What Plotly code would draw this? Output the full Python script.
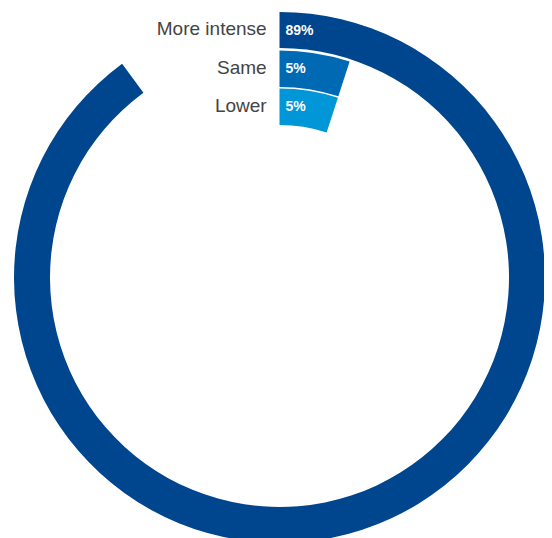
import plotly.graph_objects as go

# ---- data ----
categories = ["More intense", "Same", "Lower"]
values = [89.9, 5.0, 5.0]            # share of a full circle, in %
value_labels = ["89%", "5%", "5%"]

# ---- styling ----
colors = ["#00468E", "#0069B4", "#0096D8"]
ring_base = [229.5, 190.5, 152.5]      # inner radius of each ring (radial units = px)
ring_thick = [36.0, 36.5, 36.5]

fig = go.Figure()

for cat, v, c, b, t in zip(categories, values, colors, ring_base, ring_thick):
    deg = v * 3.6
    fig.add_trace(go.Barpolar(
        r=[t], base=[b], theta=[deg / 2], width=[deg],
        marker=dict(color=c, line=dict(width=0)),
        name=cat, hoverinfo="skip", showlegend=False,
    ))

mids = [b + t / 2 for b, t in zip(ring_base, ring_thick)]

# category labels (left of the 12 o'clock line)
fig.add_trace(go.Scatterpolar(
    r=mids, theta=[0, 0, 0], mode="markers+text",
    text=categories, textposition="middle left",
    marker=dict(size=19, opacity=0),
    textfont=dict(family="Liberation Sans, Arial, sans-serif", size=19, color="#444444"),
    hoverinfo="skip", showlegend=False,
))
# value labels inside the ring starts
fig.add_trace(go.Scatterpolar(
    r=[m - 1 for m in mids], theta=[0, 0, 0], mode="markers+text",
    text=value_labels, textposition="middle right",
    marker=dict(size=8, opacity=0),
    textfont=dict(family="Liberation Sans, Arial, sans-serif", size=14, color="white",
                  weight="bold"),
    hoverinfo="skip", showlegend=False,
))

# page body has an 8px default margin, so figure coords = window coords - 8
W, H = 552, 538
R = 267.0
cx, cy = 279.5 - 8, 277.5 - 8
fig.update_layout(
    width=W, height=H,
    margin=dict(l=0, r=0, t=0, b=0),
    paper_bgcolor="white",
    showlegend=False,
    polar=dict(
        domain=dict(x=[(cx - R) / W, (cx + R) / W],
                    y=[(H - cy - R) / H, (H - cy + R) / H]),
        bgcolor="white",
        radialaxis=dict(visible=False, range=[0, R], showgrid=False),
        angularaxis=dict(visible=False, rotation=90, direction="clockwise",
                         showgrid=False),
        bargap=0,
    ),
)

fig.write_html("out.html")
